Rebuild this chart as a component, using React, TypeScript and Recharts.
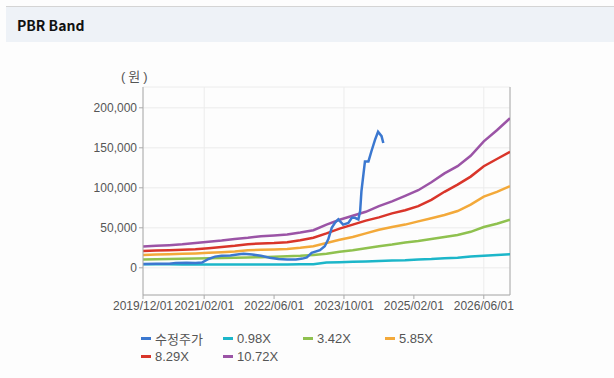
import React from "react";
import {
  LineChart,
  Line,
  XAxis,
  YAxis,
  CartesianGrid,
  ReferenceLine,
} from "recharts";

// months since 2019/12
const bandMonths = [
  0, 3, 6, 9, 12, 15, 18, 21, 24, 27, 30, 33, 36, 39, 42, 45, 48, 51, 54, 57,
  60, 63, 66, 69, 72, 75, 78, 81, 84,
];
const band098 = [
  4500, 4400, 4300, 4200, 4100, 4000, 4000, 4000, 4000, 4000, 4100, 4200,
  4300, 4500, 6500, 7000, 7500, 8000, 8500, 9000, 9500, 10500, 11000, 12000,
  12500, 14000, 15000, 16000, 17000,
];
const band342 = [
  10500, 10800, 11000, 11300, 11600, 12000, 12300, 12600, 12900, 13300, 13800,
  14500, 15000, 16000, 17500, 20000, 22000, 24500, 27000, 29000, 31500, 33500,
  36000, 38500, 41000, 45000, 51000, 55000, 60000,
];
const band585 = [
  16000, 16500, 17000, 17500, 18000, 18800, 19500, 20500, 22000, 22500, 23000,
  23500, 25000, 27000, 31000, 35000, 38500, 43000, 47500, 51000, 54000, 58000,
  62000, 66000, 71000, 79000, 89000, 95000, 102000,
];
const band829 = [
  21000, 21500, 22000, 22500, 23300, 24500, 26000, 27500, 29500, 30500, 31000,
  32000, 34500, 37500, 43000, 49000, 54000, 59000, 63000, 68000, 72000, 77000,
  85000, 95000, 104000, 114000, 127000, 136000, 145000,
];
const band1072 = [
  26500, 27500, 28300, 29300, 31000, 32500, 34000, 36000, 37500, 39500, 40500,
  41500, 44000, 47000, 54000, 60000, 65000, 70000, 77000, 83000, 90000, 97000,
  107000, 118000, 127000, 140000, 158000, 172000, 187000,
];

const priceMonths = [
  0, 3, 6, 7.5, 10, 12, 13.5, 15, 16.5, 18, 20, 22, 23, 25, 27, 29, 31, 33, 35,
  36.5, 37.5, 38.6, 40.5, 41.6, 42.4, 43.2, 43.9, 44.7, 45.8, 47, 47.8, 48.5,
  49.3, 49.7, 50, 50.8, 51.6, 52.3, 53.1, 53.8, 54.6, 55,
];
const priceValues = [
  4800, 5000, 5200, 6000, 6200, 6000, 6500, 11000, 14000, 15000, 15500, 17000,
  17500, 16500, 15000, 12500, 11000, 10500, 10500, 11500, 13000, 18700, 22000,
  27000, 35500, 50000, 56000, 60500, 54000, 56000, 62500, 62500, 60500, 71000,
  96000, 133000, 133000, 146000, 160000, 170000, 164600, 156000,
];

const xTicks = [0, 14, 30, 46, 62, 78];
const xTickLabels = [
  "2019/12/01",
  "2021/02/01",
  "2022/06/01",
  "2023/10/01",
  "2025/02/01",
  "2026/06/01",
];
const yTicks = [0, 50000, 100000, 150000, 200000];

const series = [
  { key: "price", name: "수정주가", color: "#3b78d0" },
  { key: "b098", name: "0.98X", color: "#1cb6c9" },
  { key: "b342", name: "3.42X", color: "#8fc14f" },
  { key: "b585", name: "5.85X", color: "#f3a93a" },
  { key: "b829", name: "8.29X", color: "#d9352a" },
  { key: "b1072", name: "10.72X", color: "#9b54a6" },
];

const bandRows = bandMonths.map((m, i) => ({
  m,
  b098: band098[i],
  b342: band342[i],
  b585: band585[i],
  b829: band829[i],
  b1072: band1072[i],
}));
const priceRows = priceMonths.map((m, i) => ({ m, price: priceValues[i] }));

const font = "'Liberation Sans', Arial, 'Noto Sans CJK KR', sans-serif";
const tickStyle = { fontSize: 12, fill: "#555", fontFamily: font };

function LegendBox() {
  const cols = [141, 223, 303, 385];
  return (
    <>
      {series.map((s, i) => {
        const row = i < 4 ? 0 : 1;
        const col = i < 4 ? i : i - 4;
        return (
          <div
            key={s.key}
            style={{
              position: "absolute",
              left: cols[col],
              top: row === 0 ? 329 : 347,
              height: 18,
              display: "flex",
              alignItems: "center",
              fontFamily: font,
              fontSize: 13,
              color: "#555",
              whiteSpace: "nowrap",
            }}
          >
            <span
              style={{
                display: "inline-block",
                width: 10,
                height: 3,
                background: s.color,
                marginRight: 4,
              }}
            />
            {s.name}
          </div>
        );
      })}
    </>
  );
}

export default function App() {
  return (
    <div
      style={{
        position: "absolute",
        left: 0,
        top: 0,
        width: 614,
        height: 378,
        background: "#fdfdfd",
        overflow: "hidden",
      }}
    >
      <div
        style={{
          position: "absolute",
          left: 6,
          top: 6,
          width: 608,
          height: 35,
          background: "#eef2f7",
          borderTop: "1px solid #d4d4d4",
        }}
      />
      <div
        style={{
          position: "absolute",
          left: 17,
          top: 15,
          fontFamily: "'Noto Sans CJK KR', 'Noto Sans', sans-serif",
          fontWeight: 700,
          fontSize: 14,
          color: "#111",
        }}
      >
        PBR Band
      </div>
      <div
        style={{
          position: "absolute",
          left: 121,
          top: 66,
          fontFamily: font,
          fontSize: 13,
          color: "#555",
          letterSpacing: 3,
        }}
      >
        (원)
      </div>
      <div style={{ position: "absolute", left: 0, top: 0 }}>
        <LineChart
          width={614}
          height={378}
          margin={{ top: 87, right: 104, left: 83, bottom: 63 }}
        >
          <CartesianGrid stroke="#ececec" />
          <XAxis
            type="number"
            dataKey="m"
            domain={[0, 84]}
            ticks={xTicks}
            tickFormatter={(v) => xTickLabels[xTicks.indexOf(v)] ?? ""}
            tick={tickStyle}
            stroke="#aaa"
            tickSize={4}
            height={20}
            allowDataOverflow
          />
          <YAxis
            type="number"
            domain={[-34000, 226000]}
            ticks={yTicks}
            tickFormatter={(v) => v.toLocaleString("en-US")}
            tick={tickStyle}
            stroke="#aaa"
            tickSize={4}
            width={60}
            allowDataOverflow
          />
          <ReferenceLine x={84} stroke="#aaa" />
          {series.slice(1).map((s) => (
            <Line
              key={s.key}
              data={bandRows}
              dataKey={s.key}
              name={s.name}
              stroke={s.color}
              strokeWidth={2.5}
              dot={false}
              type="linear"
              isAnimationActive={false}
            />
          ))}
          <Line
            data={priceRows}
            dataKey="price"
            name="수정주가"
            stroke={series[0].color}
            strokeWidth={2.5}
            dot={false}
            type="linear"
            isAnimationActive={false}
          />
        </LineChart>
      </div>
      <LegendBox />
    </div>
  );
}
